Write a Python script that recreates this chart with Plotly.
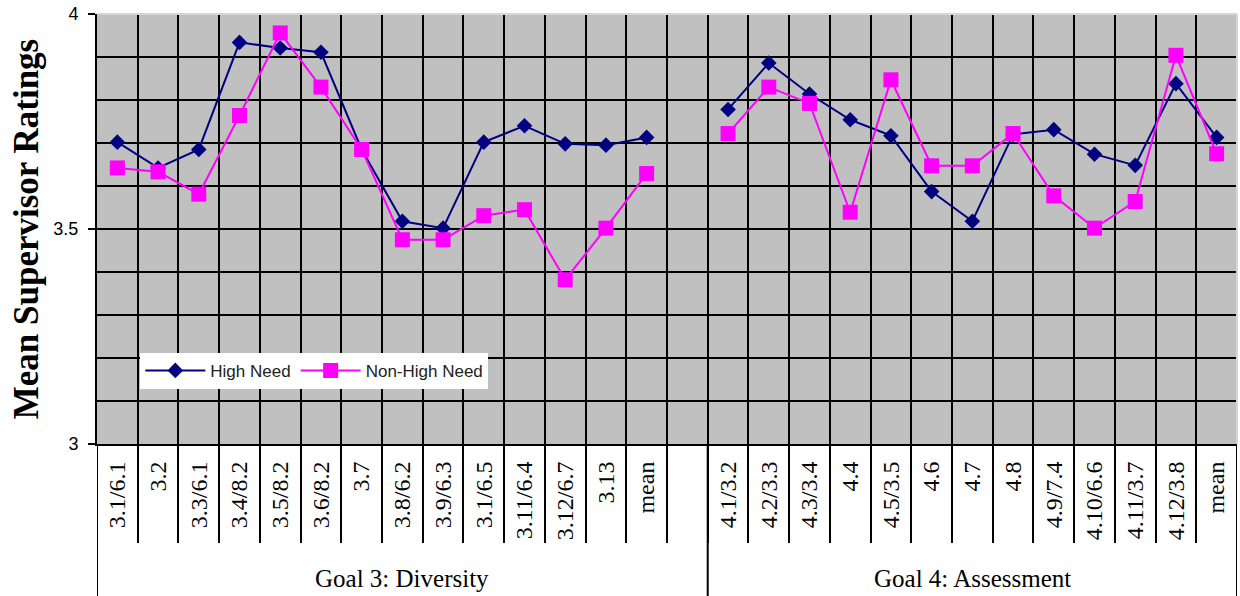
import plotly.graph_objects as go

# Item labels along the x axis (blank slot separates the two goals)
categories = [
    "3.1/6.1", "3.2", "3.3/6.1", "3.4/8.2", "3.5/8.2", "3.6/8.2", "3.7",
    "3.8/6.2", "3.9/6.3", "3.1/6.5", "3.11/6.4", "3.12/6.7", "3.13", "mean",
    "",
    "4.1/3.2", "4.2/3.3", "4.3/3.4", "4.4", "4.5/3.5", "4.6", "4.7", "4.8",
    "4.9/7.4", "4.10/6.6", "4.11/3.7", "4.12/3.8", "mean",
]

high_need = [
    3.702, 3.642, 3.685, 3.934, 3.921, 3.911, 3.685, 3.518, 3.502, 3.702,
    3.740, 3.698, 3.695, 3.713,
    None,
    3.778, 3.886, 3.814, 3.754, 3.717, 3.587, 3.518, 3.720, 3.731, 3.674,
    3.648, 3.838, 3.713,
]

non_high_need = [
    3.642, 3.633, 3.581, 3.764, 3.956, 3.830, 3.685, 3.475, 3.475, 3.531,
    3.545, 3.382, 3.502, 3.629,
    None,
    3.722, 3.830, 3.792, 3.539, 3.847, 3.647, 3.647, 3.722, 3.577, 3.502,
    3.564, 3.904, 3.675,
]

groups = ["Goal 3: Diversity", "Goal 4: Assessment"]
group_bounds = [(0, 15), (15, 28)]

y_major = [3, 3.5, 4]
y_major_text = ["3", "3.5", "4"]
y_minor = [round(3 + 0.1 * k, 1) for k in range(1, 10)]

n = len(categories)
x_centers = [i + 0.5 for i in range(n)]
boundaries = list(range(1, n))

SERIF = "Liberation Serif, Times New Roman, serif"
SANS = "Liberation Sans, Arial, sans-serif"

fig = go.Figure()
fig.add_trace(go.Scatter(
    x=x_centers, y=high_need, name="High Need", mode="lines+markers",
    line=dict(color="#000080", width=2),
    marker=dict(symbol="diamond", size=12, color="#000080"),
    connectgaps=False,
))
fig.add_trace(go.Scatter(
    x=x_centers, y=non_high_need, name="Non-High Need", mode="lines+markers",
    line=dict(color="#FF00FF", width=2),
    marker=dict(symbol="square", size=15, color="#FF00FF"),
    connectgaps=False,
))

shapes = [
    # light frame on the top and right edges of the plot area
    dict(type="line", xref="paper", yref="paper", x0=0, x1=1, y0=1, y1=1,
         line=dict(color="#d6d6d6", width=2)),
    dict(type="line", xref="paper", yref="paper", x0=1, x1=1, y0=0, y1=1,
         line=dict(color="#d6d6d6", width=2)),
]
# long separators framing the goal groups below the axis
for b in sorted({g for pair in group_bounds for g in pair}):
    shapes.append(dict(type="line", xref="x", yref="paper", x0=b, x1=b,
                       y0=0, y1=-0.36, line=dict(color="black", width=2)))

annotations = []
for name, (a, b) in zip(groups, group_bounds):
    annotations.append(dict(
        text=name, x=(a + b) / 2, y=-0.312, xref="x", yref="paper",
        showarrow=False, xanchor="center", yanchor="middle",
        font=dict(family=SERIF, size=25, color="black"),
    ))

fig.update_layout(
    width=1240, height=596,
    margin=dict(l=97, r=3, t=14, b=152),
    paper_bgcolor="white",
    plot_bgcolor="#C0C0C0",
    showlegend=True,
    legend=dict(
        orientation="h", x=0.038, y=0.212, xanchor="left", yanchor="top",
        bgcolor="white", borderwidth=0,
        font=dict(family=SANS, size=17, color="#222222"),
        itemwidth=60,
    ),
    xaxis=dict(
        range=[0, n], showgrid=False, zeroline=False,
        tickmode="array", tickvals=x_centers, ticktext=categories,
        tickangle=-90, ticks="", ticklabelstandoff=6,
        tickfont=dict(family=SERIF, size=24, color="black"),
        showline=True, linecolor="black", linewidth=2,
        minor=dict(tickvals=boundaries, showgrid=True, gridcolor="black",
                   gridwidth=2, ticks="outside", ticklen=97, tickwidth=2,
                   tickcolor="black"),
    ),
    yaxis=dict(
        range=[3, 4], showgrid=False, zeroline=False,
        tickmode="array", tickvals=y_major, ticktext=y_major_text,
        ticks="outside", ticklen=7, tickwidth=1.5, tickcolor="black",
        ticklabelstandoff=6,
        tickfont=dict(family=SANS, size=18, color="black"),
        showline=True, linecolor="black", linewidth=2,
        minor=dict(tickvals=y_minor, showgrid=True, gridcolor="black",
                   gridwidth=2, ticks=""),
        title=dict(text="Mean Supervisor Ratings", standoff=4,
                   font=dict(family=SERIF, size=35, color="black", weight=700)),
    ),
    shapes=shapes,
    annotations=annotations,
)

fig.write_html("out.html")
